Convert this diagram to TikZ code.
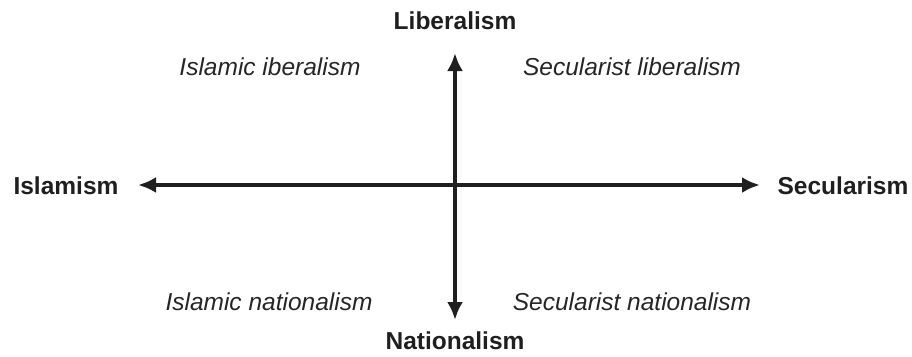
\documentclass[tikz,border=0pt]{standalone}
\usepackage{fontspec}
\setmainfont{Liberation Sans}
\usetikzlibrary{arrows.meta}
\begin{document}
\begin{tikzpicture}[x=1pt,y=-1pt,
  axislabel/.style={font=\fontsize{24.5}{28}\selectfont\bfseries, text=black!88, inner sep=0pt},
  quadlabel/.style={font=\fontsize{24.5}{28}\selectfont\itshape, text=black!85, inner sep=0pt},
  axisarrow/.style={line width=4.3pt, draw=black!88, -{Latex[length=18pt,width=16pt]}}]
\useasboundingbox (0,0) rectangle (912,356);
\coordinate (c) at (455,185);
\coordinate (L) at (455,53);
\coordinate (N) at (455,320);
\coordinate (I) at (138,185);
\coordinate (S) at (760,185);
\draw[axisarrow] (c) -- (L);
\draw[axisarrow] (c) -- (N);
\draw[axisarrow] (c) -- (I);
\draw[axisarrow] (c) -- (S);
\node[axislabel] (lib) at (455,21) {Liberalism};
\node[axislabel] (nat) at (455,341) {Nationalism};
\node[axislabel] (isl) at (66,186) {Islamism};
\node[axislabel] (sec) at (843,186) {Secularism};
\node[quadlabel] (q1) at (270,67) {Islamic iberalism};
\node[quadlabel] (q2) at (632,67) {Secularist liberalism};
\node[quadlabel] (q3) at (269,302) {Islamic nationalism};
\node[quadlabel] (q4) at (632,302) {Secularist nationalism};
\end{tikzpicture}
\end{document}
